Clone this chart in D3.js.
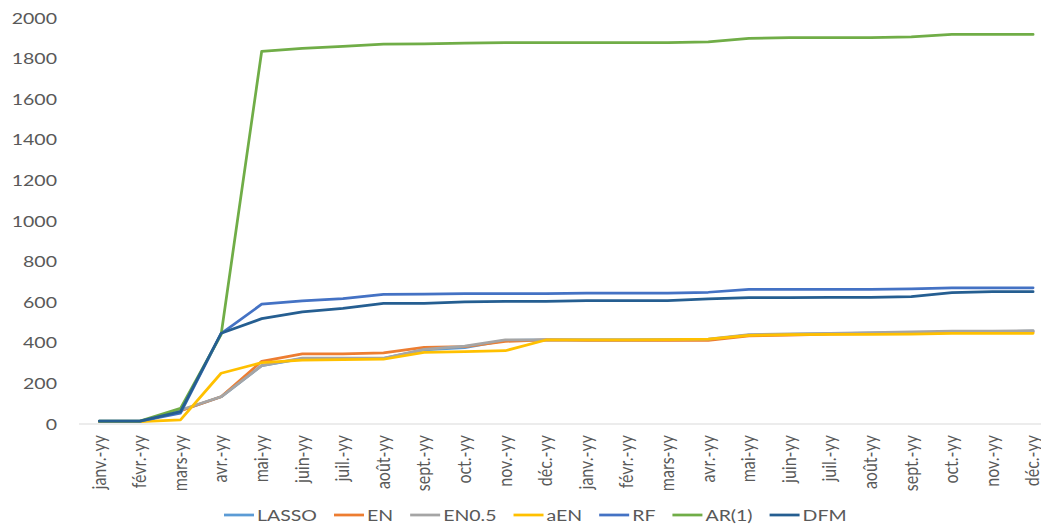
<!DOCTYPE html>
<html><head><meta charset="utf-8">
<script src="https://cdn.jsdelivr.net/npm/d3@7"></script>
<style>
html,body{margin:0;padding:0;background:#fff;}
svg{display:block;font-family:Lato,"Open Sans",sans-serif;}
</style></head>
<body><svg id="chart" width="1041" height="529"></svg>
<script>
const categories = ["janv.-yy","févr.-yy","mars-yy","avr.-yy","mai-yy","juin-yy","juil.-yy","août-yy","sept.-yy","oct.-yy","nov.-yy","déc.-yy",
                    "janv.-yy","févr.-yy","mars-yy","avr.-yy","mai-yy","juin-yy","juil.-yy","août-yy","sept.-yy","oct.-yy","nov.-yy","déc.-yy"];
const yTicks = [0,200,400,600,800,1000,1200,1400,1600,1800,2000];
const seriesNames = ["LASSO","EN","EN0.5","aEN","RF","AR(1)","DFM"];
const LASSO = [12,12,65,134,288,322,322,323,365,376,412,414,414,414,414,416,438,442,445,448,450,453,455,457];
const EN    = [12,12,65,134,309,345,345,350,378,381,407,414,412,412,412,412,434,438,443,445,447,452,452,453];
const EN05  = [12,12,69,134,288,324,324,324,368,384,414,414,414,414,416,418,440,444,447,450,454,458,458,460];
const aEN   = [12,12,20,250,302,315,317,319,353,356,361,414,414,414,416,418,436,440,442,442,443,447,447,447];
const RF    = [14,14,53,445,590,607,618,639,640,642,642,642,645,645,645,649,663,663,663,663,666,671,671,671];
const AR1   = [14,14,77,440,1836,1850,1860,1871,1872,1876,1879,1879,1879,1879,1879,1882,1900,1903,1903,1903,1907,1919,1919,1919];
const DFM   = [14,14,61,447,519,552,570,594,594,601,604,604,608,608,608,616,622,622,624,624,627,647,652,652];
const seriesValues = [LASSO,EN,EN05,aEN,RF,AR1,DFM];
const colors = ["#5B9BD5","#ED7D31","#A5A5A5","#FFC000","#4472C4","#70AD47","#255E91"];

const STRETCH = 1.22;   // the reference text is drawn horizontally widened
const FONT = "16px";

const svg = d3.select("#chart");
const x = d3.scaleBand().domain(d3.range(categories.length)).range([79, 79 + 24*40.6]);
const y = d3.scaleLinear().domain([0,2000]).range([424,18]);
const cx = i => x(i) + x.bandwidth()/2;

// baseline
svg.append("line").attr("x1",79).attr("x2",1041).attr("y1",y(0)).attr("y2",y(0))
  .attr("stroke","#D9D9D9").attr("stroke-width",1);

// y axis labels
const yAxis = d3.axisLeft(y).tickValues(yTicks).tickFormat(d3.format("d")).tickSize(0).tickPadding(0);
const gy = svg.append("g").attr("transform","translate(57,0)").call(yAxis);
gy.select(".domain").remove();
gy.selectAll("text").attr("fill","#595959").style("font-size",FONT).attr("font-family","Lato")
  .attr("x",0).attr("transform",`scale(${STRETCH},1)`);

// x axis labels
const xAxis = d3.axisBottom(x).tickFormat(i => categories[i]).tickSize(0).tickPadding(0);
const gx = svg.append("g").attr("transform","translate(0,435)").call(xAxis);
gx.select(".domain").remove();
gx.selectAll("text").attr("fill","#595959").style("font-size",FONT).attr("font-family","Lato")
  .attr("text-anchor","end").attr("transform",`scale(${STRETCH},1) rotate(-90)`).attr("x",0).attr("y",0).attr("dy","0.32em");

// lines
const line = d3.line().x((d,i)=>cx(i)).y(d=>y(d));
seriesValues.forEach((vals,k)=>{
  svg.append("path").datum(vals).attr("d",line).attr("fill","none")
    .attr("stroke",colors[k]).attr("stroke-width",2.75).attr("stroke-linejoin","round").attr("stroke-linecap","round");
});

// legend
const lg = svg.append("g").attr("transform","translate(0,515)");
let xpos = 224;
seriesNames.forEach((name,k)=>{
  const g = lg.append("g").attr("transform",`translate(${xpos},0)`);
  g.append("line").attr("x1",0).attr("x2",30).attr("y1",0).attr("y2",0).attr("stroke",colors[k]).attr("stroke-width",2.75);
  const t = g.append("text").attr("x",0).attr("y",0).attr("dy","0.35em").attr("fill","#595959")
    .attr("transform",`translate(33,0) scale(${STRETCH},1)`)
    .style("font-size",FONT).text(name);
  xpos += 33 + t.node().getComputedTextLength()*STRETCH + 17;
});
</script></body></html>
